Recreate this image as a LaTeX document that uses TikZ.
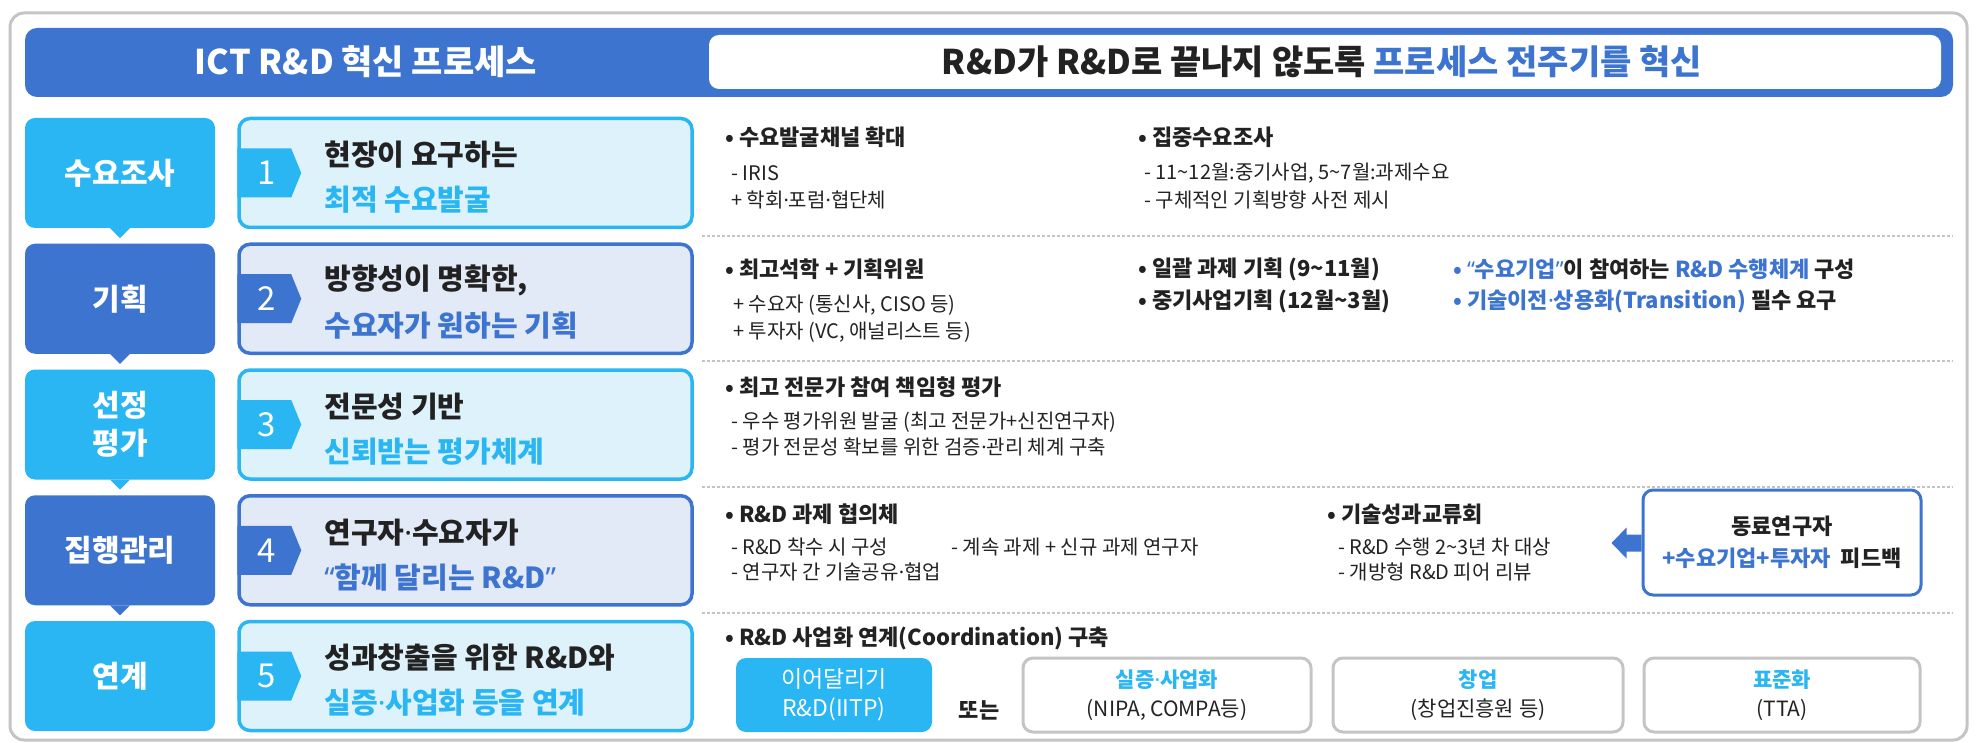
\documentclass[tikz,border=0pt]{standalone}
\usepackage{fontspec}
\setmainfont{Noto Sans CJK KR}
\newfontfamily\dotf{Noto Sans}
\newcommand\md{{\dotf ·}}
\newcommand\oq{{\dotf “}}
\newcommand\cq{{\dotf ”}}
\definecolor{cy}{RGB}{41,182,242}
\definecolor{bl}{RGB}{61,116,208}
\definecolor{cyl}{RGB}{222,242,252}
\definecolor{bll}{RGB}{226,233,247}
\definecolor{gr}{RGB}{196,196,196}
\definecolor{tx}{RGB}{34,34,34}
\newcommand\myfs[2]{\fontsize{#1}{#2}\selectfont}
\begin{document}
\begin{tikzpicture}[x=1pt,y=-1pt,
 lbl/.style={rounded corners=10pt, text=white, font=\myfs{30}{38}\bfseries, align=center, minimum width=190pt, minimum height=110pt, inner sep=0pt},
 midbox/.style={rounded corners=11pt, line width=3.5pt, minimum width=453pt, minimum height=109pt, inner sep=0pt},
 numtxt/.style={text=white, font=\myfs{33}{33}, inner sep=0pt},
 midtxt/.style={anchor=west, inner sep=0pt, font=\myfs{29}{29}\bfseries, text=tx},
 head/.style={anchor=west, inner sep=0pt, font=\myfs{22}{22}\bfseries, text=tx},
 sub/.style={anchor=west, inner sep=0pt, font=\myfs{20}{20}, text=tx},
 sepline/.style={draw=gr, line width=2.5pt, dash pattern=on 3pt off 2pt},
 optbox/.style={draw=gr, line width=3pt, rounded corners=10pt, minimum height=74pt, align=center, font=\myfs{21}{29}, text=tx, inner sep=0pt},
]
\useasboundingbox (0,0) rectangle (1976,743);
% outer frame
\node[draw=gr, line width=3pt, rounded corners=14pt, minimum width=1957pt, minimum height=727pt, inner sep=0pt] (frame) at (988.5,376.5) {};
% header
\node[fill=bl, rounded corners=12pt, minimum width=1928pt, minimum height=69pt, inner sep=0pt] (hdr) at (989,62.5) {};
\node[fill=white, rounded corners=10pt, minimum width=1232pt, minimum height=54pt, inner sep=0pt] (hdrw) at (1325,62) {};
\node[font=\myfs{34}{34}\bfseries, text=white, inner sep=0pt] (h1) at (366,62) {ICT R\&D 혁신 프로세스};
\node[font=\myfs{34}{34}\bfseries, text=tx, inner sep=0pt] (h2) at (1322,62) {R\&D가 R\&D로 끝나지 않도록 \textcolor{bl}{프로세스 전주기를 혁신}};

% left labels
\node[lbl, fill=cy] (L1) at (120,173) {수요조사};
\node[lbl, fill=bl] (L2) at (120,298.75) {기획};
\node[lbl, fill=cy] (L3) at (120,424.5) {선정\\평가};
\node[lbl, fill=bl] (L4) at (120,550.25) {집행관리};
\node[lbl, fill=cy] (L5) at (120,676) {연계};
\foreach \n/\c in {L1/cy,L2/bl,L3/cy,L4/bl}{
  \fill[\c] ([xshift=-10pt]\n.south) -- ([xshift=10pt]\n.south) -- ([yshift=-10pt]\n.south) -- cycle;
}

% middle boxes
\foreach \i/\y/\c/\f in {1/173/cy/cyl,2/298.75/bl/bll,3/424.5/cy/cyl,4/550.25/bl/bll,5/676/cy/cyl}{
  \node[midbox, draw=\c, fill=\f] (M\i) at (465.5,\y) {};
  \fill[\c] ([yshift=24.5pt]M\i.west) -- ++(54,0) -- ++(10,24.5) -- ++(-10,24.5) -- ++(-54,0) -- cycle;
  \node[numtxt] (N\i) at ([xshift=29pt]M\i.west) {\i};
}
\node[midtxt] (T1a) at ([xshift=87pt,yshift=18pt]M1.west) {현장이 요구하는};
\node[midtxt, text=cy] (T1b) at ([xshift=87pt,yshift=-27pt]M1.west) {최적 수요발굴};
\node[midtxt] (T2a) at ([xshift=87pt,yshift=18pt]M2.west) {방향성이 명확한,};
\node[midtxt, text=bl] (T2b) at ([xshift=87pt,yshift=-27pt]M2.west) {수요자가 원하는 기획};
\node[midtxt] (T3a) at ([xshift=87pt,yshift=18pt]M3.west) {전문성 기반};
\node[midtxt, text=cy] (T3b) at ([xshift=87pt,yshift=-27pt]M3.west) {신뢰받는 평가체계};
\node[midtxt] (T4a) at ([xshift=87pt,yshift=18pt]M4.west) {연구자\md 수요자가};
\node[midtxt, text=bl] (T4b) at ([xshift=87pt,yshift=-27pt]M4.west) {\oq 함께 달리는 R\&D\cq};
\node[midtxt] (T5a) at ([xshift=87pt,yshift=18pt]M5.west) {성과창출을 위한 R\&D와};
\node[midtxt, text=cy] (T5b) at ([xshift=87pt,yshift=-27pt]M5.west) {실증\md 사업화 등을 연계};

% separators
\foreach \y in {236,361,487,613}{
  \coordinate (sa\y) at (702,\y);
  \coordinate (sb\y) at (1953,\y);
  \draw[sepline] (sa\y) -- (sb\y);
}

% row 1
\node[head] (r1a) at (725,137) {• 수요발굴채널 확대};
\node[sub] (r1b) at (731,173) {- IRIS};
\node[sub] (r1c) at (731,200) {+ 학회\md 포럼\md 협단체};
\node[head] (r1d) at (1138,137) {• 집중수요조사};
\node[sub] (r1e) at (1144,173) {- 11\textasciitilde12월:중기사업, 5\textasciitilde7월:과제수요};
\node[sub] (r1f) at (1144,200) {- 구체적인 기획방향 사전 제시};

% row 2
\node[head] (r2a) at (725,269) {• 최고석학 + 기획위원};
\node[sub] (r2b) at (733,305) {+ 수요자 (통신사, CISO 등)};
\node[sub] (r2c) at (733,332) {+ 투자자 (VC, 애널리스트 등)};
\node[head] (r2d) at (1138,269) {• 일괄 과제 기획 (9\textasciitilde11월)};
\node[head] (r2e) at (1138,301) {• 중기사업기획 (12월\textasciitilde3월)};
\node[head] (r2f) at (1453,269) {\textcolor{bl}{• \oq 수요기업\cq}이 참여하는 \textcolor{bl}{R\&D 수행체계} 구성};
\node[head] (r2g) at (1453,301) {\textcolor{bl}{• 기술이전\md 상용화(Transition)} 필수 요구};

% row 3
\node[head] (r3a) at (725,387) {• 최고 전문가 참여 책임형 평가};
\node[sub] (r3b) at (731,422) {- 우수 평가위원 발굴 (최고 전문가+신진연구자)};
\node[sub] (r3c) at (731,447) {- 평가 전문성 확보를 위한 검증\md 관리 체계 구축};

% row 4
\node[head] (r4a) at (725,514) {• R\&D 과제 협의체};
\node[sub] (r4b) at (731,547) {- R\&D 착수 시 구성};
\node[sub] (r4c) at (731,572) {- 연구자 간 기술공유\md 협업};
\node[sub] (r4d) at (951,547) {- 계속 과제 + 신규 과제 연구자};
\node[head] (r4e) at (1327,514) {• 기술성과교류회};
\node[sub] (r4f) at (1338,547) {- R\&D 수행 2\textasciitilde3년 차 대상};
\node[sub] (r4g) at (1338,572) {- 개방형 R\&D 피어 리뷰};
\node[draw=bl, line width=3pt, rounded corners=10pt, minimum width=278pt, minimum height=105pt, align=center, font=\myfs{22}{32}\bfseries, text=tx, inner sep=0pt] (F) at (1782,542.5) {동료연구자\\\textcolor{bl}{+수요기업+투자자}\ \ 피드백};
\fill[bl] ([yshift=8pt]F.west) -- ++(-15,0) -- ++(0,-7) -- ++(-15,15.5) -- ++(15,15.5) -- ++(0,-7) -- ++(15,0) -- cycle;

% row 5
\node[head] (r5a) at (725,638) {• R\&D 사업화 연계(Coordination) 구축};
\node[fill=cy, rounded corners=10pt, minimum width=196pt, minimum height=74pt, text=white, align=center, font=\myfs{23}{29}, inner sep=0pt] (B0) at (834,695) {이어달리기\\R\&D(IITP)};
\node[font=\myfs{22}{22}\bfseries, text=tx, inner sep=0pt] (or) at (979,710) {또는};
\node[optbox, minimum width=288pt] (B1) at (1167,695) {\textcolor{cy}{\bfseries 실증\md 사업화}\\(NIPA, COMPA등)};
\node[optbox, minimum width=290pt] (B2) at (1478,695) {\textcolor{cy}{\bfseries 창업}\\(창업진흥원 등)};
\node[optbox, minimum width=276pt] (B3) at (1782,695) {\textcolor{cy}{\bfseries 표준화}\\(TTA)};
\end{tikzpicture}
\end{document}
